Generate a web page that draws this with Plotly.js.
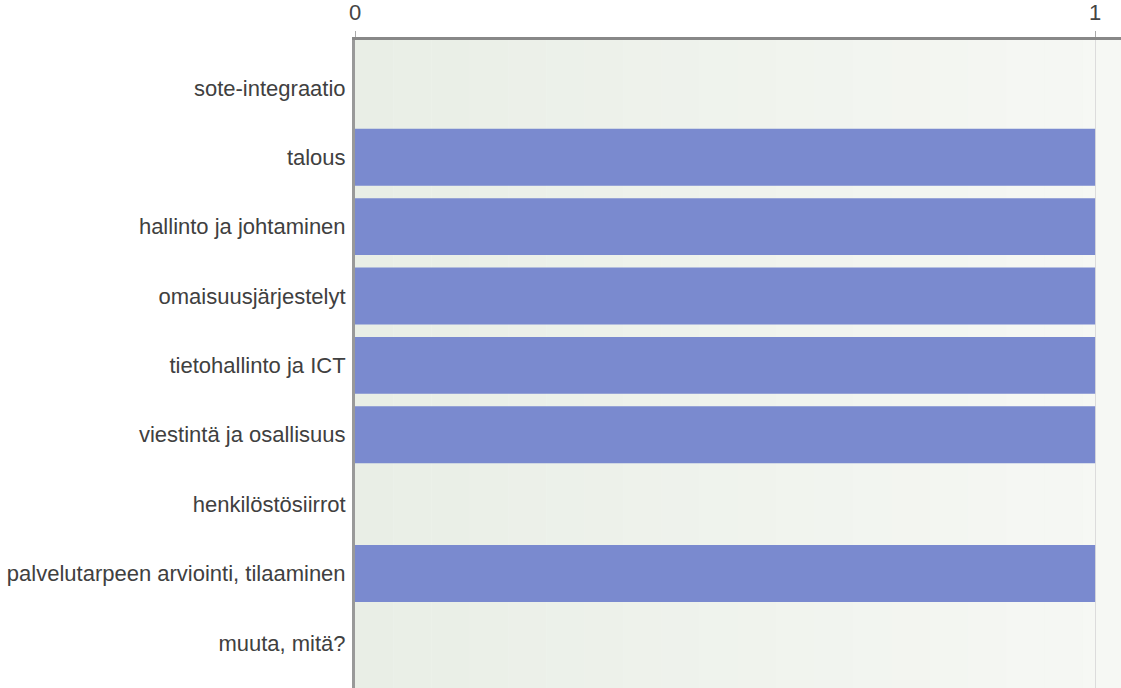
<!DOCTYPE html>
<html><head><meta charset="utf-8">
<script src="https://cdn.plot.ly/plotly-3.0.1.min.js"></script>
<style>html,body{margin:0;padding:0;background:#fff;}#c{width:1121px;height:688px;}</style>
</head><body><div id="c"></div>
<script>
const categories = ["sote-integraatio","talous","hallinto ja johtaminen","omaisuusjärjestelyt","tietohallinto ja ICT","viestintä ja osallisuus","henkilöstösiirrot","palvelutarpeen arviointi, tilaaminen","muuta, mitä?"];
const values = [0,1,1,1,1,1,0,1,0];
const tickVals = [0,1];
const tickText = ["0","1"];

// background gradient stripes (styling only)
const shapes = [];
const n = 20;
for (let i = 0; i < n; i++) {
  const t = i / (n - 1);
  const r = Math.round(233 + (246 - 233) * t);
  const g = Math.round(238 + (248 - 238) * t);
  const b = Math.round(230 + (244 - 230) * t);
  shapes.push({type:'rect', xref:'paper', yref:'paper', x0:i/n, x1:(i+1)/n, y0:0, y1:1,
    fillcolor:`rgb(${r},${g},${b})`, line:{width:0}, layer:'below'});
}

Plotly.newPlot('c', [{
  type:'bar', orientation:'h', x:values, y:categories,
  marker:{color:'#7a8acf', line:{width:0}},
  hoverinfo:'x+y'
}], {
  width:1121, height:688,
  margin:{l:355, r:0, t:40, b:0},
  paper_bgcolor:'#ffffff', plot_bgcolor:'#f1f4ef',
  bargap:0.18,
  shapes:shapes,
  font:{family:'Liberation Sans, Arial, sans-serif', size:22, color:'#404040'},
  xaxis:{side:'top', range:[0,1.035], tickvals:tickVals, ticktext:tickText,
    showgrid:true, gridcolor:'#dcdcdc', gridwidth:1, zeroline:false,
    showline:true, linecolor:'#888', linewidth:3, ticks:'outside', ticklen:6, tickcolor:'#aaa',
    tickfont:{size:22, color:'#444'}, ticklabelstandoff:2, fixedrange:true},
  yaxis:{range:[8.65,-0.69], tickvals:categories, showgrid:false, zeroline:false,
    showline:true, linecolor:'#999', linewidth:3, ticks:'', ticklabelstandoff:2,
    tickfont:{size:22, color:'#404040'}, fixedrange:true},
  showlegend:false
}, {displayModeBar:false, staticPlot:true});
</script></body></html>
